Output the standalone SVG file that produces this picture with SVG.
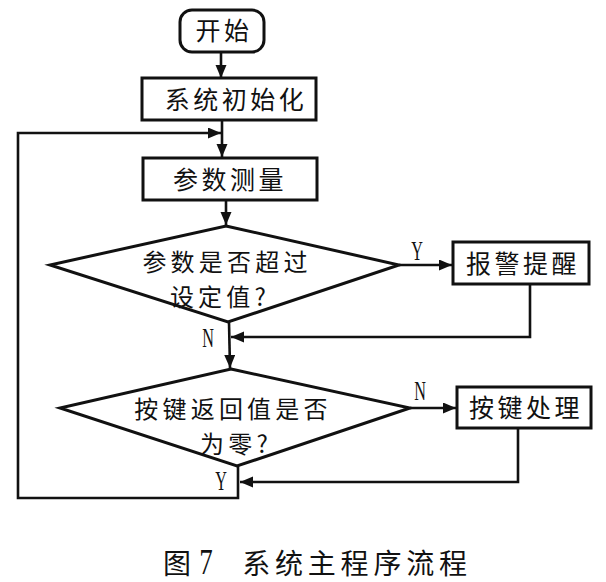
<svg xmlns="http://www.w3.org/2000/svg" width="606" height="582" viewBox="0 0 606 582">
<defs>
<style>
.shape{fill:#fff;stroke:#111;stroke-width:3}
.conn{fill:none;stroke:#111;stroke-width:2.6}
.t{font-family:"Noto Sans CJK SC","Noto Sans",sans-serif;font-size:25px;fill:#111;text-anchor:middle;letter-spacing:3.5px}
.d{font-size:24px;letter-spacing:4.2px}
.yn{font-family:"Liberation Serif",serif;font-size:27px;fill:#111;text-anchor:middle}
.cap{font-family:"Noto Sans CJK SC","Noto Sans",sans-serif;font-size:28px;fill:#111;text-anchor:middle;letter-spacing:4.8px}
</style>
<marker id="arr" markerUnits="userSpaceOnUse" markerWidth="14" markerHeight="12" refX="13" refY="5.5" orient="auto">
<path d="M0,0 L13,5.5 L0,11 z" fill="#111"/>
</marker>
</defs>
<rect width="606" height="582" fill="#fff"/>
<g id="connectors">
<line class="conn" x1="221" y1="52" x2="221" y2="78" marker-end="url(#arr)"/>
<line class="conn" x1="222" y1="120" x2="222" y2="157" marker-end="url(#arr)"/>
<line class="conn" x1="226" y1="200" x2="226" y2="225" marker-end="url(#arr)"/>
<line class="conn" x1="399" y1="265" x2="452" y2="265" marker-end="url(#arr)"/>
<polyline class="conn" points="530,284 530,337 231,337" marker-end="url(#arr)"/>
<line class="conn" x1="229" y1="322" x2="230" y2="368" marker-end="url(#arr)"/>
<line class="conn" x1="410" y1="408" x2="456" y2="408" marker-end="url(#arr)"/>
<polyline class="conn" points="518,428 518,482 240,482" marker-end="url(#arr)"/>
<polyline class="conn" points="238,466 238,498 18,498 18,133 221,133" marker-end="url(#arr)"/>
<text class="yn" transform="translate(417,260) scale(0.6,1)">Y</text>
<text class="yn" transform="translate(208,347) scale(0.6,1)">N</text>
<text class="yn" transform="translate(420,400) scale(0.6,1)">N</text>
<text class="yn" transform="translate(221,490) scale(0.6,1)">Y</text>
</g>
<g id="start">
<rect class="shape" x="180" y="10" width="84" height="42" rx="12"/>
<text class="t" x="224" y="40">开始</text>
</g>
<g id="init">
<rect class="shape" x="142" y="78" width="174" height="42"/>
<text class="t" x="236" y="109">系统初始化</text>
</g>
<g id="measure">
<rect class="shape" x="143" y="158" width="174" height="42"/>
<text class="t" x="230" y="189">参数测量</text>
</g>
<g id="check1">
<polygon class="shape" points="226,226 399,265 228,322 50,265"/>
<text class="t d" x="227" y="271">参数是否超过</text>
<text class="t d" x="220" y="306">设定值?</text>
</g>
<g id="alarm">
<rect class="shape" x="453" y="242" width="136" height="42"/>
<text class="t" x="523" y="273">报警提醒</text>
</g>
<g id="check2">
<polygon class="shape" points="231,369 410,408 237,466 60,408"/>
<text class="t d" x="233" y="418">按键返回值是否</text>
<text class="t d" x="236" y="453">为零?</text>
</g>
<g id="keyproc">
<rect class="shape" x="457" y="387" width="134" height="41"/>
<text class="t" x="526" y="417">按键处理</text>
</g>
<g id="caption">
<text class="cap" x="177" y="574" style="letter-spacing:0">图</text>
<text class="yn" transform="translate(206,574) scale(0.75,1)" style="font-size:36px">7</text>
<text class="cap" x="357" y="574">系统主程序流程</text>
</g>
</svg>
